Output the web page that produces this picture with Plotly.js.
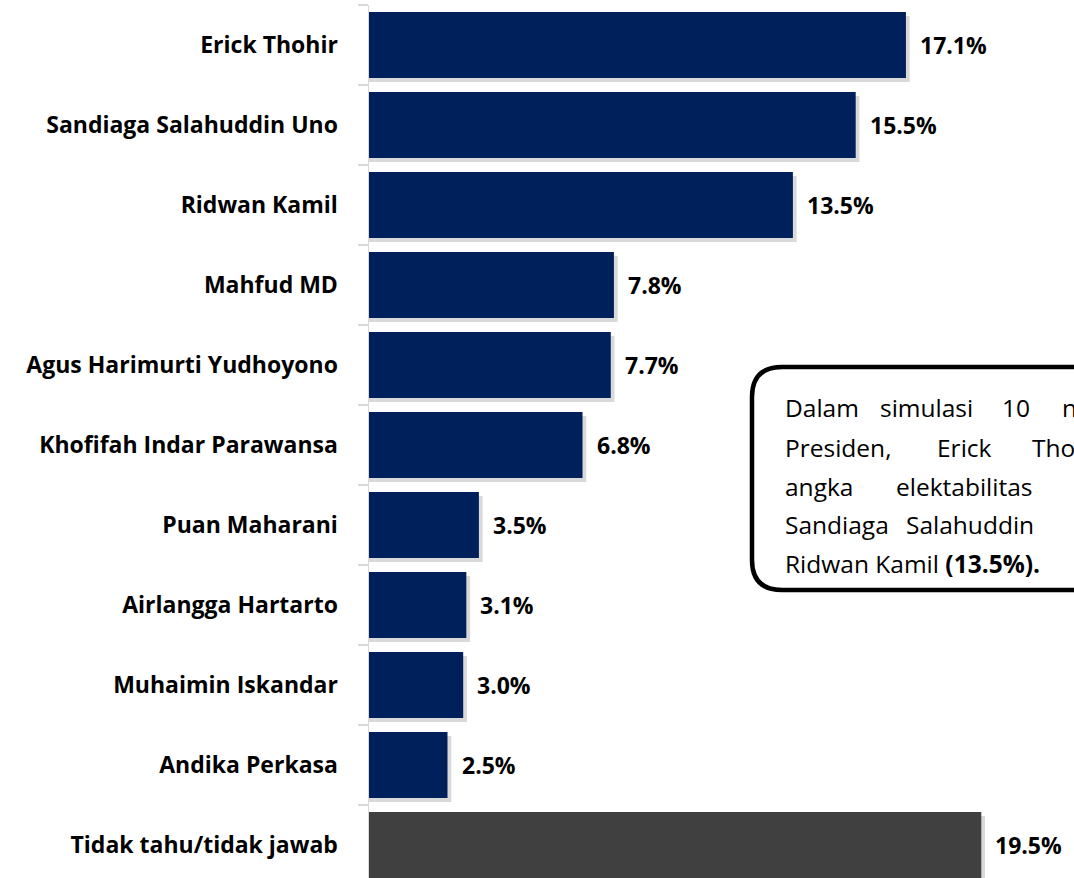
<!DOCTYPE html>
<html>
<head>
<meta charset="utf-8">
<script src="https://cdn.plot.ly/plotly-3.0.1.min.js"></script>
<style>html,body{margin:0;padding:0;background:#fff;overflow:hidden;}#chart{width:1074px;height:878px;}</style>
</head>
<body>
<div id="chart"></div>
<script>
// ---- data ----
const categories = [
  "Erick Thohir",
  "Sandiaga Salahuddin Uno",
  "Ridwan Kamil",
  "Mahfud MD",
  "Agus Harimurti Yudhoyono",
  "Khofifah Indar Parawansa",
  "Puan Maharani",
  "Airlangga Hartarto",
  "Muhaimin Iskandar",
  "Andika Perkasa",
  "Tidak tahu/tidak jawab"
];
const values = [17.1, 15.5, 13.5, 7.8, 7.7, 6.8, 3.5, 3.1, 3.0, 2.5, 19.5];
const barColors = ["#00205B","#00205B","#00205B","#00205B","#00205B","#00205B","#00205B","#00205B","#00205B","#00205B","#404040"];

// note box text (justified lines, words)
const noteLines = [
  ["Dalam", "simulasi", "10", "nama"],
  ["Presiden,", "Erick", "Thohir"],
  ["angka", "elektabilitas"],
  ["Sandiaga", "Salahuddin"],
  ["Ridwan Kamil <b>(13.5%).</b>"]
];
// ---- layout helpers ----
const W = 1074, H = 878;
const M = {l: 369, r: 0, t: 5, b: 0};
const pw = W - M.l - M.r, ph = H - M.t - M.b;
const px = x => (x - M.l) / pw;
const py = y => 1 - (y - M.t) / ph;

const wordX = [
  [783, 878, 1000, 1060],
  [783, 935, 1030],
  [783, 894],
  [783, 904],
  [783]
];
const lineBase = [418, 458, 497, 535, 574];

const BW = 0.825;
const shadow = {
  type: "bar", orientation: "h",
  y: categories, x: values.map(v => v + 0.12),
  width: categories.map(() => BW), offset: categories.map(() => -BW/2 + 0.05),
  marker: {color: "rgba(0,0,0,0.15)"},
  hoverinfo: "skip", showlegend: false
};
const bars = {
  type: "bar", orientation: "h",
  y: categories, x: values,
  width: categories.map(() => BW), offset: categories.map(() => -BW/2),
  marker: {color: barColors},
  showlegend: false
};

const FONT = "'Open Sans', 'Noto Sans', sans-serif";
const annotations = values.map((v, i) => ({
  x: v, y: categories[i], xref: "x", yref: "y",
  text: "<b>" + v.toFixed(1) + "%</b>",
  showarrow: false, xanchor: "left", yanchor: "middle", xshift: 12,
  font: {family: FONT, size: 23, color: "#000"}
}));

noteLines.forEach((words, li) => {
  words.forEach((w, wi) => {
    annotations.push({
      x: px(wordX[li][wi]), y: py(lineBase[li]), xref: "paper", yref: "paper",
      text: w, showarrow: false, xanchor: "left", yanchor: "bottom",
      yshift: -8,
      font: {family: FONT, size: 24.5, color: "#000"}
    });
  });
});

const x0 = 752, y0 = 367, x1 = 1110, y1 = 590, r = 30;
const boxPath = `M ${px(x0)} ${py(y0 + r)} Q ${px(x0)} ${py(y0)} ${px(x0 + r)} ${py(y0)} L ${px(x1)} ${py(y0)} L ${px(x1)} ${py(y1)} L ${px(x0 + r)} ${py(y1)} Q ${px(x0)} ${py(y1)} ${px(x0)} ${py(y1 - r)} Z`;

const layout = {
  width: W, height: H,
  margin: M,
  paper_bgcolor: "#ffffff", plot_bgcolor: "rgba(0,0,0,0)",
  barmode: "overlay",
  font: {family: FONT},
  xaxis: {range: [0, pw / 31.4], visible: false, fixedrange: true},
  yaxis: {
    type: "category", categoryorder: "array", categoryarray: categories,
    range: [-0.5 + ph / 80, -0.5],
    showline: true, linecolor: "#d9d9d9", linewidth: 1.5,
    ticks: "outside", tickson: "boundaries", ticklen: 10, tickcolor: "#d9d9d9", tickwidth: 1.5,
    ticklabelstandoff: 25,
    showgrid: false, zeroline: false,
    tickfont: {family: FONT, size: 23, color: "#000", weight: "bold"}
  },
  annotations: annotations,
  shapes: [{
    type: "path", xref: "paper", yref: "paper", path: boxPath,
    line: {color: "#000", width: 4.5}, fillcolor: "rgba(255,255,255,0.9)", layer: "above"
  }]
};
Plotly.newPlot("chart", [shadow, bars], layout, {displayModeBar: false, staticPlot: true});
</script>
</body>
</html>
